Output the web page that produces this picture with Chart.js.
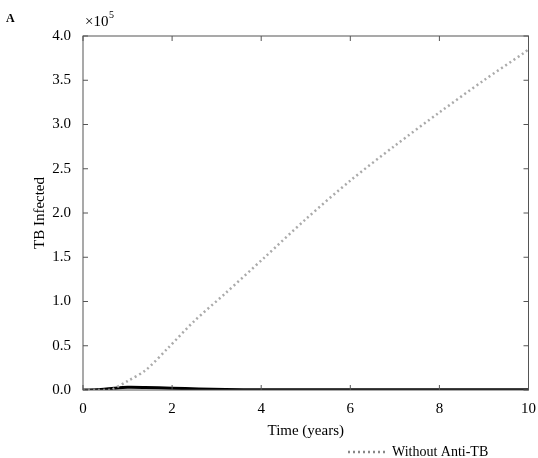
<!DOCTYPE html>
<html><head><meta charset="utf-8">
<script src="https://cdn.jsdelivr.net/npm/chart.js@4"></script>
<style>html,body{margin:0;padding:0;background:#fff}#w{width:538px;height:458px}</style>
</head><body><div id="w"><canvas id="c"></canvas></div>
<script>
const withoutT = [0, 0.3, 0.5, 0.62, 1.0, 1.41, 1.9, 2.5, 3.19, 4.08, 5.0, 6.01, 7.0, 8.01, 9.0, 9.9, 10];
const withoutY = [0, 0, 0, 0, 0.1, 0.226, 0.47, 0.78, 1.09, 1.50, 1.93, 2.37, 2.76, 3.14, 3.50, 3.81, 3.85];
const withT = [0, 0.4, 0.7, 1.0, 1.4, 2.0, 2.6, 3.2, 4.0, 6.0, 8.0, 10];
const withY = [0, 0.005, 0.02, 0.03, 0.028, 0.02, 0.012, 0.006, 0.003, 0.002, 0.002, 0.002];
const xTicks = [0, 2, 4, 6, 8, 10];
const yTicks = [0, 0.5, 1, 1.5, 2, 2.5, 3, 3.5, 4];
const legendLabel = 'Without Anti-TB';
const pts = (t, y) => t.map((v, i) => ({x: v, y: y[i]}));
const FONT = "'Liberation Serif', 'DejaVu Serif', serif";
Chart.defaults.font.family = FONT;
Chart.defaults.color = '#000';
const frame = {
  id: 'frame',
  afterDraw(ch) {
    const {ctx, chartArea: a, scales: {x, y}} = ch;
    ctx.save();
    ctx.strokeStyle = '#555'; ctx.lineWidth = 1;
    ctx.strokeRect(a.left, a.top, a.right - a.left, a.bottom - a.top);
    ctx.beginPath();
    xTicks.forEach(v => { const p = x.getPixelForValue(v);
      ctx.moveTo(p, a.bottom); ctx.lineTo(p, a.bottom - 5);
      ctx.moveTo(p, a.top); ctx.lineTo(p, a.top + 5); });
    yTicks.forEach(v => { const p = y.getPixelForValue(v);
      ctx.moveTo(a.left, p); ctx.lineTo(a.left + 5, p);
      ctx.moveTo(a.right, p); ctx.lineTo(a.right - 5, p); });
    ctx.stroke();
    ctx.fillStyle = '#000';
    ctx.font = '15px ' + FONT;
    ctx.fillText('×10', a.left + 2, a.top - 10);
    ctx.font = '10px ' + FONT;
    ctx.fillText('5', a.left + 26, a.top - 18);
    ctx.font = 'bold 12px ' + FONT;
    ctx.fillText('A', 6, 22);
    // legend
    ctx.font = '14px ' + FONT;
    ctx.textBaseline = 'middle';
    ctx.fillText(legendLabel, 392, 452);
    ctx.strokeStyle = '#888'; ctx.lineWidth = 2.5; ctx.setLineDash([2, 3]);
    ctx.beginPath(); ctx.moveTo(348, 452); ctx.lineTo(388, 452); ctx.stroke();
    ctx.setLineDash([]);
    ctx.font = '15px ' + FONT;
    ctx.textBaseline = 'alphabetic';
    ctx.translate(44, (a.top + a.bottom) / 2);
    ctx.rotate(-Math.PI / 2);
    ctx.textAlign = 'center';
    ctx.fillText('TB Infected', 0, 0);
    ctx.restore();
  }
};
new Chart(document.getElementById('c'), {
  type: 'line',
  data: { datasets: [
    { label: legendLabel, data: pts(withoutT, withoutY), borderColor: '#aaaaaa', borderDash: [2, 3], borderWidth: 2.5, pointRadius: 0, tension: 0.3, fill: false },
    { label: 'With', data: pts(withT, withY), borderColor: '#000', borderWidth: 3, pointRadius: 0, tension: 0.3, fill: false }
  ]},
  options: {
    responsive: true, maintainAspectRatio: false, animation: false,
    layout: { padding: { top: 36, right: 8, left: 0, bottom: 18 } },
    plugins: { tooltip: { enabled: false }, legend: { display: false } },
    scales: {
      x: { type: 'linear', min: 0, max: 10, afterBuildTicks: s => { s.ticks = xTicks.map(v => ({value: v})); },
        afterFit: s => { s.height = 50; },
        grid: { display: false }, border: { display: false },
        ticks: { font: { size: 15 }, padding: 2, maxRotation: 0, callback: v => v },
        title: { display: true, text: 'Time (years)', font: { size: 15 }, padding: 0 } },
      y: { min: 0, max: 4, afterBuildTicks: s => { s.ticks = yTicks.map(v => ({value: v})); },
        afterFit: s => { s.width = 83; },
        grid: { display: false }, border: { display: false },
        ticks: { font: { size: 15 }, padding: 4, callback: v => v.toFixed(1) } }
    }
  },
  plugins: [frame]
});
</script></body></html>
